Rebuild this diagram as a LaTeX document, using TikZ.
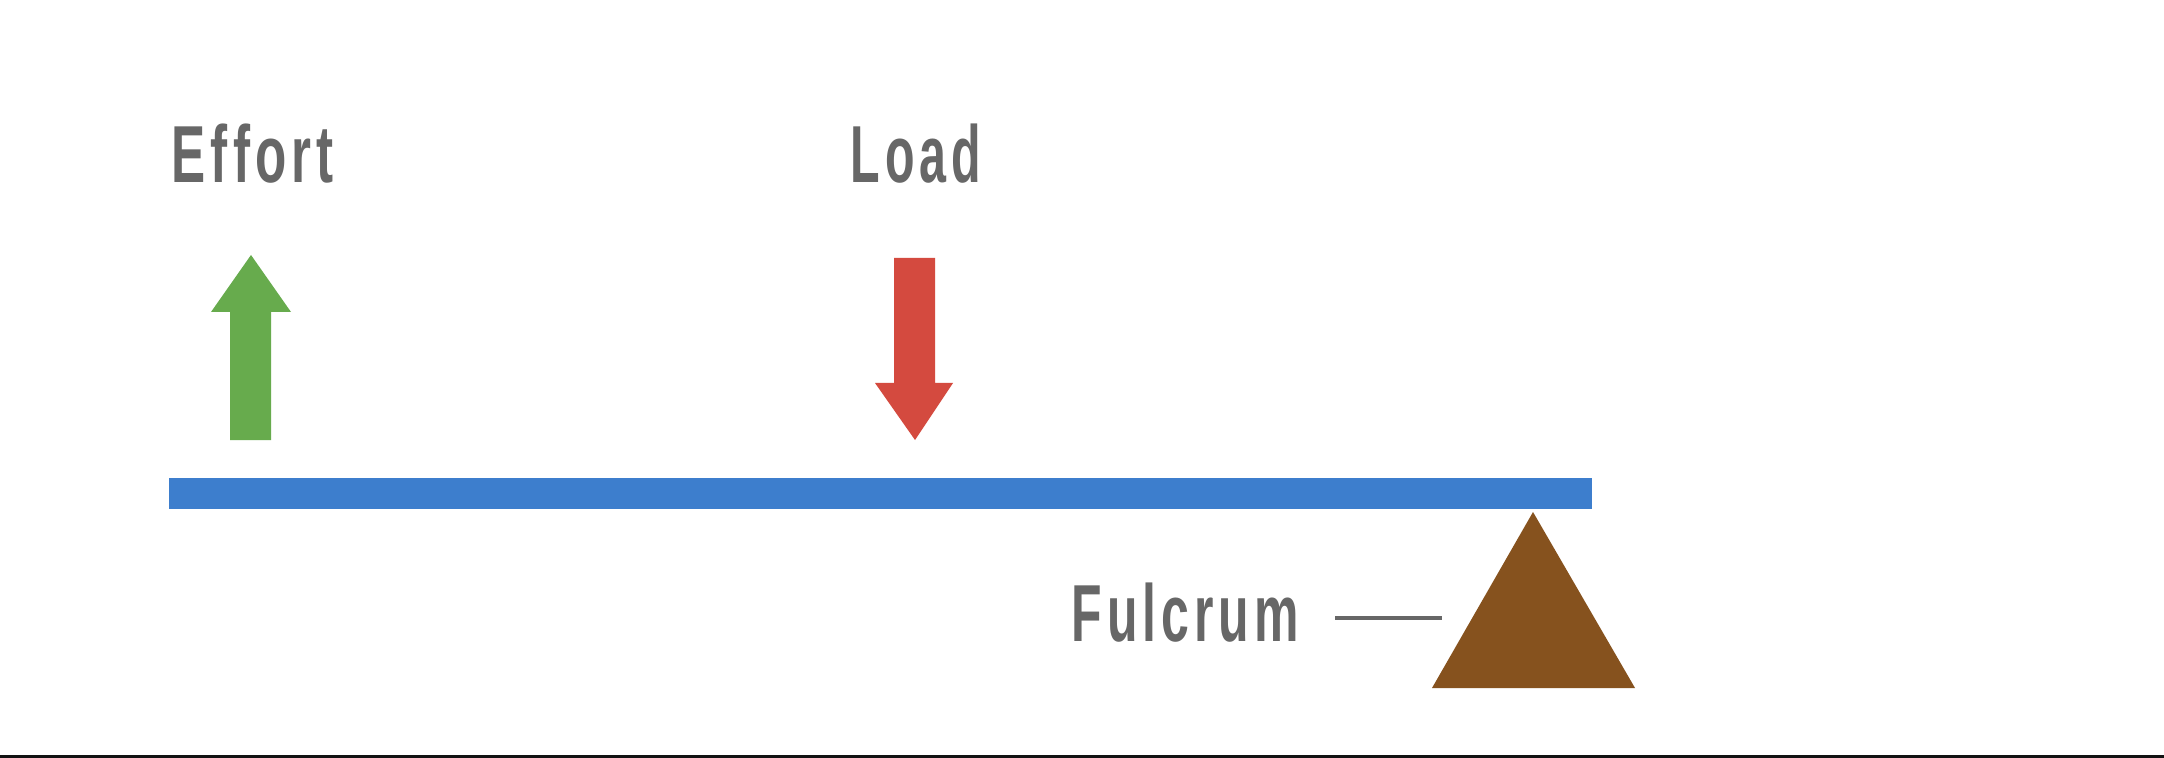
\documentclass[tikz,border=0pt]{standalone}
\usepackage{fontspec}
\usepackage{graphicx}
\setmainfont{Liberation Sans}
\newfontfamily\lblfont{Liberation Sans}[LetterSpace=10]
\definecolor{effgreen}{HTML}{67AB4D}
\definecolor{loadred}{HTML}{D44A3F}
\definecolor{beamblue}{HTML}{3D7ECD}
\definecolor{fulbrown}{HTML}{86521E}
\definecolor{txtgray}{HTML}{676767}
\tikzset{
  lbl/.style={anchor=base west, inner sep=0pt, text=txtgray, font=\lblfont\fontsize{23pt}{26pt}\selectfont\bfseries},
}
\begin{document}
\begin{tikzpicture}[x=0.01cm,y=-0.01cm]
\useasboundingbox (0,0) rectangle (2164,758);
\fill[white] (0,0) rectangle (2164,758);
% labels
\node[lbl] (effort) at (171,183) {\resizebox{1.62cm}{\height}{Effort}};
\node[lbl] (load) at (850,183) {\resizebox{1.30cm}{\height}{Load}};
\node[lbl] (fulcrum) at (1071,641) {\resizebox{2.27cm}{\height}{Fulcrum}};
% effort arrow
\fill[effgreen] (230,440) -- (230,312) -- (211,312) -- (251,255) -- (291,312) -- (271,312) -- (271,440) -- cycle;
% load arrow
\fill[loadred] (894,258) -- (935,258) -- (935,383) -- (953,383) -- (915,440) -- (875,383) -- (894,383) -- cycle;
% beam
\fill[beamblue] (169,478) rectangle (1592,509);
% fulcrum triangle
\fill[fulbrown] (1533,512) -- (1432,688) -- (1635,688) -- cycle;
\coordinate (tri) at (1442,618);
\coordinate (lstart) at (1335,618);
\draw[txtgray, line width=0.9pt] (lstart) -- (tri);
% bottom strip
\fill[black!93] (0,755) rectangle (2164,758);
\end{tikzpicture}
\end{document}
